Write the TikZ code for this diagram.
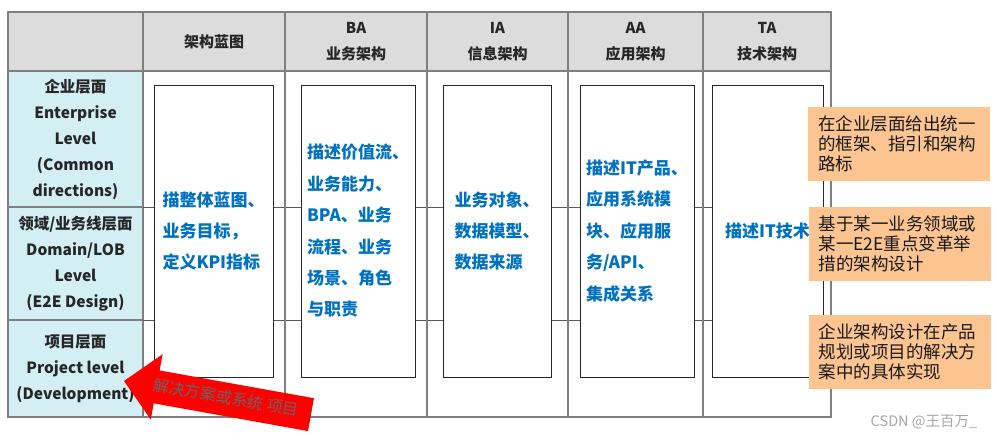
\documentclass[tikz,border=0pt]{standalone}
\usepackage{fontspec}
\setmainfont{Noto Sans CJK SC}
\usepackage{tikz}
\usetikzlibrary{shapes.arrows}
\usetikzlibrary{calc}
\definecolor{headgray}{HTML}{DCDCDC}
\definecolor{tiercyan}{HTML}{D4EFF4}
\definecolor{textblue}{HTML}{0070C0}
\definecolor{noteorange}{HTML}{FBC491}
\definecolor{linegray}{HTML}{7F7F7F}
\tikzstyle{cell} = [draw=linegray,line width=1.2pt,inner sep=0pt,outer sep=0pt,align=center,text=black!85]
\tikzstyle{head} = [cell,fill=headgray,minimum height=59pt,font=\bfseries\fontsize{15}{26}\selectfont]
\tikzstyle{tier} = [cell,fill=tiercyan,minimum width=135pt,font=\bfseries\fontsize{15.5}{26}\selectfont]
\tikzstyle{block} = [draw=black!85,line width=0.9pt,fill=white,minimum height=292pt,inner sep=0pt,align=left,text=textblue,font=\bfseries\fontsize{17}{31.4}\selectfont]
\tikzstyle{note} = [fill=noteorange,text width=162pt,inner xsep=10pt,inner ysep=0pt,minimum height=74pt,align=left,text=black!90,font=\fontsize{17.5}{20}\selectfont]
\tikzstyle{tabline} = [draw=linegray,line width=1.2pt]
\tikzstyle{rowline} = [draw=black!65,line width=0.8pt]
\tikzstyle{bigarrow} = [single arrow,shape border rotate=180,fill=red,text=black!60,font=\fontsize{16}{16}\selectfont,minimum height=190pt,single arrow head extend=16.5pt,text height=12pt,text depth=4pt,inner ysep=8.5pt,inner xsep=4pt,outer sep=0pt]
\tikzstyle{wmark} = [text=black!35,font=\fontsize{14.5}{14.5}\selectfont]

\begin{document}
\begin{tikzpicture}[x=1pt,y=-1pt]

    \useasboundingbox (0,0) rectangle (997,440);

% Draw header row

    \def\hy{41.5}
    \node[head,minimum width=135pt] at (75.5,\hy) (h0) {};
    \node[head,minimum width=142pt] at (214,\hy) (h1) {架构蓝图};
    \node[head,minimum width=142pt] at (356,\hy) (h2) {BA\\业务架构};
    \node[head,minimum width=141pt] at (497.5,\hy) (h3) {IA\\信息架构};
    \node[head,minimum width=135pt] at (635.5,\hy) (h4) {AA\\应用架构};
    \node[head,minimum width=128pt] at (767,\hy) (h5) {TA\\技术架构};

% Draw level column

    \node[tier,minimum height=136pt] at (75.5,139) (r1) {企业层面\\Enterprise\\Level\\(Common\\directions)};
    \node[tier,minimum height=113pt] at (75.5,263.5) (r2) {领域/业务线层面\\Domain/LOB\\Level\\(E2E Design)};
    \node[tier,minimum height=97pt] at (75.5,368.5) (r3) {项目层面\\Project level\\(Development)};

% Draw table body lines

    \draw[rowline] (r1.south east) -- (r1.south east -| h5.east);
    \draw[rowline] (r2.south east) -- (r2.south east -| h5.east);
    \draw[tabline] (h1.south east) -- (h1.south east |- r3.south);
    \draw[tabline] (h2.south east) -- (h2.south east |- r3.south);
    \draw[tabline] (h3.south east) -- (h3.south east |- r3.south);
    \draw[tabline] (h4.south east) -- (h4.south east |- r3.south);
    \draw[tabline] (r3.south east) -- (r3.south east -| h5.east) -- (h5.south east);

% Draw blocks

    \def\by{231}
    \node[block,minimum width=119pt] at (213.5,\by) (blue) {描整体蓝图、\\业务目标，\\定义KPI指标};
    \node[block,minimum width=114pt] at (358,\by) (ba) {描述价值流、\\业务能力、\\BPA、业务\\流程、业务\\场景、角色\\与职责};
    \node[block,minimum width=108pt] at (497,\by) (ia) {业务对象、\\数据模型、\\数据来源};
    \node[block,minimum width=114pt] at (637,\by) (aa) {描述IT产品、\\应用系统模\\块、应用服\\务/API、\\集成关系};
    \node[block,minimum width=111pt] at (767.5,\by) (ta) {描述IT技术};

% Draw notes

    \node[note] at (899,144) (note1) {在企业层面给出统一\\的框架、指引和架构\\路标};
    \node[note] at (899.5,244) (note2) {基于某一业务领域或\\某一E2E重点变革举\\措的架构设计};
    \node[note] at (899.5,351.5) (note3) {企业架构设计在产品\\规划或项目的解决方\\案中的具体实现};

% Draw arrow and mark

    \node[bigarrow,rotate=-10.2,anchor=tip] at (124,381) (arrow) {解决方案或系统 项目};
    \node[wmark] at (924,422) (csdn) {CSDN @王百万\_};

\end{tikzpicture}
\end{document}
